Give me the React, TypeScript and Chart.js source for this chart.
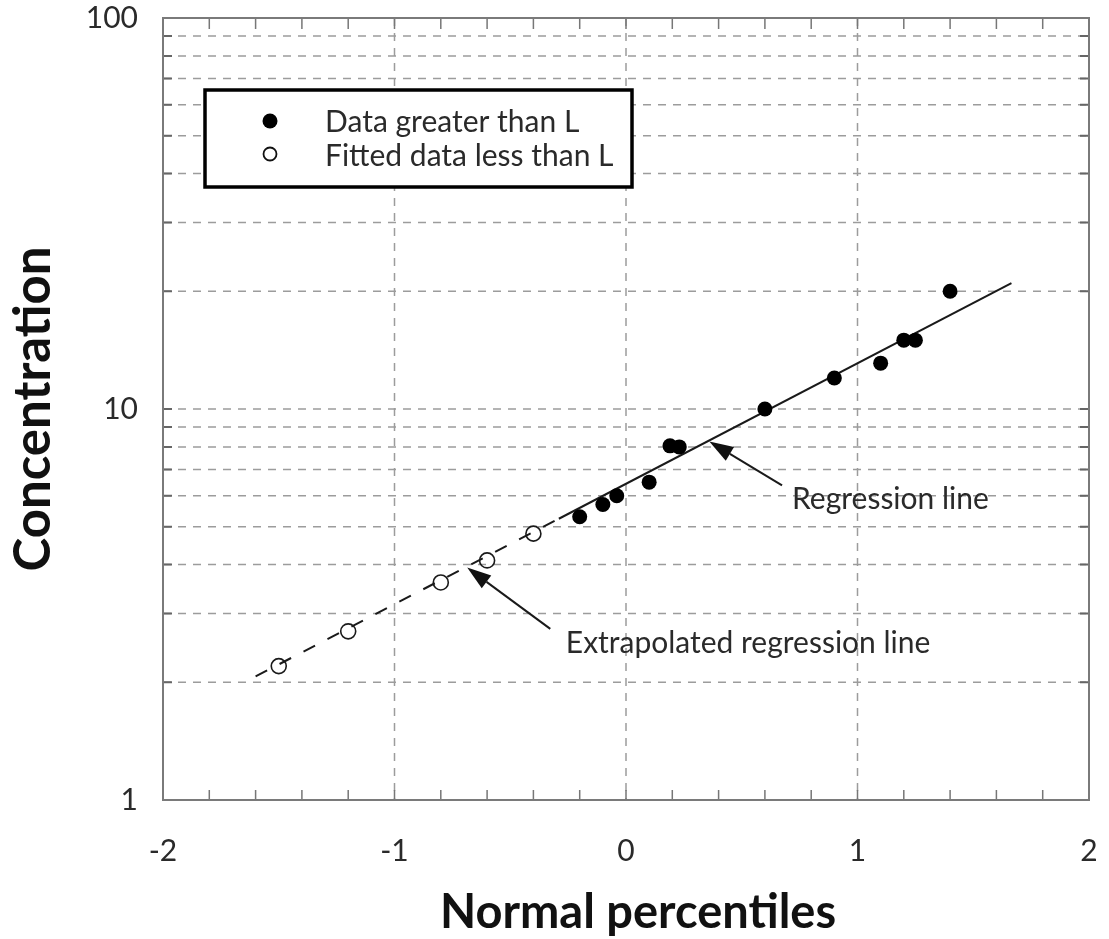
import React, { useEffect, useRef } from 'react';
import { Chart, registerables } from 'chart.js';

Chart.register(...registerables);

// ---- data ----
const aboveX = [-0.2, -0.1, -0.04, 0.1, 0.19, 0.23, 0.6, 0.9, 1.1, 1.2, 1.25, 1.4];
const aboveY = [5.3, 5.7, 6.0, 6.5, 8.05, 8.0, 10.0, 12.0, 13.1, 15.0, 15.0, 20.0];
const fittedX = [-1.5, -1.2, -0.8, -0.6, -0.4];
const fittedY = [2.2, 2.7, 3.6, 4.1, 4.8];
const regressionX = [-0.29, 1.665];
const regressionY = [5.24, 21.0];
const extrapolatedX = [-1.6, -0.29];
const extrapolatedY = [2.07, 5.24];

const xTickValues = [-2, -1, 0, 1, 2];
const xGridValues = [-1, 0, 1];
const xMinorTicks = [-1.8, -1.6, -1.4, -1.2, -1, -0.8, -0.6, -0.4, -0.2, 0, 0.2, 0.4, 0.6, 0.8, 1, 1.2, 1.4, 1.6, 1.8];
const yTickValues = [1, 10, 100];
const yGridValues = [2, 3, 4, 5, 6, 7, 8, 9, 10, 20, 30, 40, 50, 60, 70, 80, 90];

const legendLabels = ['Data greater than L', 'Fitted data less than L'];
const xTitle = 'Normal percentiles';
const yTitle = 'Concentration';

const annotationTexts = ['Regression line', 'Extrapolated regression line'];
const annotationAnchors = [
  { x: 0.717, y: 5.86 },
  { x: -0.26, y: 2.52 },
];
const arrowTails = [
  { x: 0.674, y: 6.38 },
  { x: -0.327, y: 2.74 },
];
const arrowTips = [
  { x: 0.36, y: 8.26 },
  { x: -0.686, y: 3.93 },
];

const FONT = 'Lato, "Open Sans", "DejaVu Sans", sans-serif';
const W = 1109;
const H = 939;

const toPoints = (xs: number[], ys: number[]) => xs.map((x, i) => ({ x, y: ys[i] }));

function drawArrow(ctx: CanvasRenderingContext2D, x1: number, y1: number, x2: number, y2: number) {
  const ang = Math.atan2(y2 - y1, x2 - x1);
  const headLen = 24;
  const headW = 8;
  const bx = x2 - headLen * Math.cos(ang);
  const by = y2 - headLen * Math.sin(ang);
  ctx.beginPath();
  ctx.moveTo(x1, y1);
  ctx.lineTo(bx, by);
  ctx.lineWidth = 2;
  ctx.strokeStyle = '#1a1a1a';
  ctx.stroke();
  ctx.beginPath();
  ctx.moveTo(x2, y2);
  ctx.lineTo(bx + headW * Math.sin(ang), by - headW * Math.cos(ang));
  ctx.lineTo(bx - headW * Math.sin(ang), by + headW * Math.cos(ang));
  ctx.closePath();
  ctx.fillStyle = '#111';
  ctx.fill();
}

const zeroPad = (scale: any) => {
  scale.paddingTop = 0;
  scale.paddingBottom = 0;
  scale.paddingLeft = 0;
  scale.paddingRight = 0;
};

const decorPlugin = {
  id: 'decor',
  beforeDatasetsDraw(chart: any) {
    const { ctx, chartArea } = chart;
    const { left, right, top, bottom } = chartArea;
    const xs = chart.scales.x;
    const ys = chart.scales.y;
    ctx.save();
    // dashed grid
    ctx.strokeStyle = '#9c9c9c';
    ctx.lineWidth = 1.5;
    ctx.setLineDash([8, 7]);
    yGridValues.forEach((v) => {
      const py = ys.getPixelForValue(v);
      ctx.beginPath();
      ctx.moveTo(left, py);
      ctx.lineTo(right, py);
      ctx.stroke();
    });
    xGridValues.forEach((v) => {
      const px = xs.getPixelForValue(v);
      ctx.beginPath();
      ctx.moveTo(px, top);
      ctx.lineTo(px, bottom);
      ctx.stroke();
    });
    ctx.setLineDash([]);
    // inward ticks
    ctx.strokeStyle = '#666';
    ctx.lineWidth = 2;
    yGridValues.forEach((v) => {
      const py = ys.getPixelForValue(v);
      ctx.beginPath();
      ctx.moveTo(left, py);
      ctx.lineTo(left + 9, py);
      ctx.moveTo(right, py);
      ctx.lineTo(right - 9, py);
      ctx.stroke();
    });
    ctx.strokeStyle = '#777';
    ctx.lineWidth = 1.5;
    xMinorTicks.forEach((v) => {
      const px = xs.getPixelForValue(v);
      ctx.beginPath();
      ctx.moveTo(px, bottom);
      ctx.lineTo(px, bottom - 10);
      ctx.moveTo(px, top);
      ctx.lineTo(px, top + 11);
      ctx.stroke();
    });
    // frame
    ctx.strokeStyle = '#7a7a7a';
    ctx.lineWidth = 2;
    ctx.strokeRect(left, top, right - left, bottom - top);
    ctx.restore();
  },
  afterDatasetsDraw(chart: any) {
    const { ctx, chartArea } = chart;
    const xs = chart.scales.x;
    const ys = chart.scales.y;
    ctx.save();
    // annotations
    ctx.font = `30px ${FONT}`;
    ctx.textAlign = 'left';
    ctx.textBaseline = 'middle';
    annotationTexts.forEach((t, i) => {
      const a = annotationAnchors[i];
      ctx.fillStyle = '#2a2a2a';
      ctx.fillText(t, xs.getPixelForValue(a.x), ys.getPixelForValue(a.y));
      drawArrow(
        ctx,
        xs.getPixelForValue(arrowTails[i].x),
        ys.getPixelForValue(arrowTails[i].y),
        xs.getPixelForValue(arrowTips[i].x),
        ys.getPixelForValue(arrowTips[i].y)
      );
    });
    // legend box
    const bx = 205, by = 90, bw = 427, bh = 97;
    ctx.fillStyle = '#fff';
    ctx.fillRect(bx, by, bw, bh);
    ctx.strokeStyle = '#000';
    ctx.lineWidth = 3.5;
    ctx.strokeRect(bx, by, bw, bh);
    ctx.beginPath();
    ctx.arc(270, 121, 7.5, 0, Math.PI * 2);
    ctx.fillStyle = '#000';
    ctx.fill();
    ctx.beginPath();
    ctx.arc(270, 154, 6.5, 0, Math.PI * 2);
    ctx.lineWidth = 1.8;
    ctx.strokeStyle = '#111';
    ctx.stroke();
    ctx.font = `30px ${FONT}`;
    ctx.fillStyle = '#2a2a2a';
    ctx.textBaseline = 'middle';
    ctx.fillText(legendLabels[0], 325, 122);
    ctx.fillText(legendLabels[1], 325, 156);
    // axis titles
    ctx.fillStyle = '#111';
    ctx.textAlign = 'center';
    ctx.textBaseline = 'middle';
    ctx.font = `bold 47px ${FONT}`;
    ctx.fillText(xTitle, 638, 913);
    ctx.save();
    ctx.font = `bold 51px ${FONT}`;
    ctx.translate(34, 409);
    ctx.rotate(-Math.PI / 2);
    ctx.fillText(yTitle, 0, 0);
    ctx.restore();
    ctx.restore();
  },
};

export default function App() {
  const canvasRef = useRef<HTMLCanvasElement | null>(null);

  useEffect(() => {
    document.body.style.margin = '0';
    let chart: Chart | null = null;
    let cancelled = false;
    const build = () => {
      if (cancelled || !canvasRef.current) return;
      chart = new Chart(canvasRef.current, {
        type: 'scatter',
        data: {
          datasets: [
            {
              label: legendLabels[0],
              data: toPoints(aboveX, aboveY),
              pointRadius: 7.5,
              pointBackgroundColor: '#000',
              pointBorderWidth: 0,
              showLine: false,
            },
            {
              label: legendLabels[1],
              data: toPoints(fittedX, fittedY),
              pointRadius: 7.5,
              pointBackgroundColor: 'rgba(0,0,0,0)',
              pointBorderColor: '#1a1a1a',
              pointBorderWidth: 1.6,
              showLine: false,
            },
            {
              label: 'Regression line',
              data: toPoints(regressionX, regressionY),
              showLine: true,
              pointRadius: 0,
              borderColor: '#1a1a1a',
              borderWidth: 2,
            },
            {
              label: 'Extrapolated regression line',
              data: toPoints(extrapolatedX, extrapolatedY),
              showLine: true,
              pointRadius: 0,
              borderColor: '#1a1a1a',
              borderWidth: 2,
              borderDash: [13, 14],
            },
          ],
        },
        options: {
          animation: false,
          responsive: false,
          devicePixelRatio: 1,
          layout: { padding: { left: 0, right: 20, top: 18, bottom: 0 } },
          plugins: {
            legend: { display: false },
            tooltip: { enabled: false },
          },
          scales: {
            x: {
              type: 'linear',
              min: -2,
              max: 2,
              grid: { display: false, drawTicks: false },
              border: { display: false },
              afterBuildTicks: (scale: any) => {
                scale.ticks = xTickValues.map((v) => ({ value: v }));
              },
              afterFit: (scale: any) => {
                scale.height = 139;
                zeroPad(scale);
              },
              ticks: {
                padding: 33,
                color: '#2a2a2a',
                font: { family: FONT, size: 30, lineHeight: 1.2 },
                callback: (v: any) => String(v),
                maxRotation: 0,
              },
            },
            y: {
              type: 'logarithmic',
              min: 1,
              max: 100,
              grid: { display: false, drawTicks: false },
              border: { display: false },
              afterBuildTicks: (scale: any) => {
                scale.ticks = yTickValues.map((v) => ({ value: v }));
              },
              afterFit: (scale: any) => {
                scale.width = 163;
                zeroPad(scale);
              },
              ticks: {
                padding: 25,
                color: '#2a2a2a',
                font: { family: FONT, size: 30, lineHeight: 1.2 },
                callback: (v: any) => String(v),
              },
            },
          },
        },
        plugins: [decorPlugin],
      } as any);
    };
    const fontsReady = (document as any).fonts
      ? Promise.all([
          (document as any).fonts.load(`30px Lato`),
          (document as any).fonts.load(`bold 47px Lato`),
        ]).catch(() => null)
      : Promise.resolve(null);
    fontsReady.then(build);
    return () => {
      cancelled = true;
      if (chart) chart.destroy();
    };
  }, []);

  return (
    <div style={{ width: W, height: H, position: 'relative', overflow: 'hidden', background: '#fff' }}>
      <canvas ref={canvasRef} width={W} height={H} style={{ display: 'block', width: W, height: H }} />
    </div>
  );
}
